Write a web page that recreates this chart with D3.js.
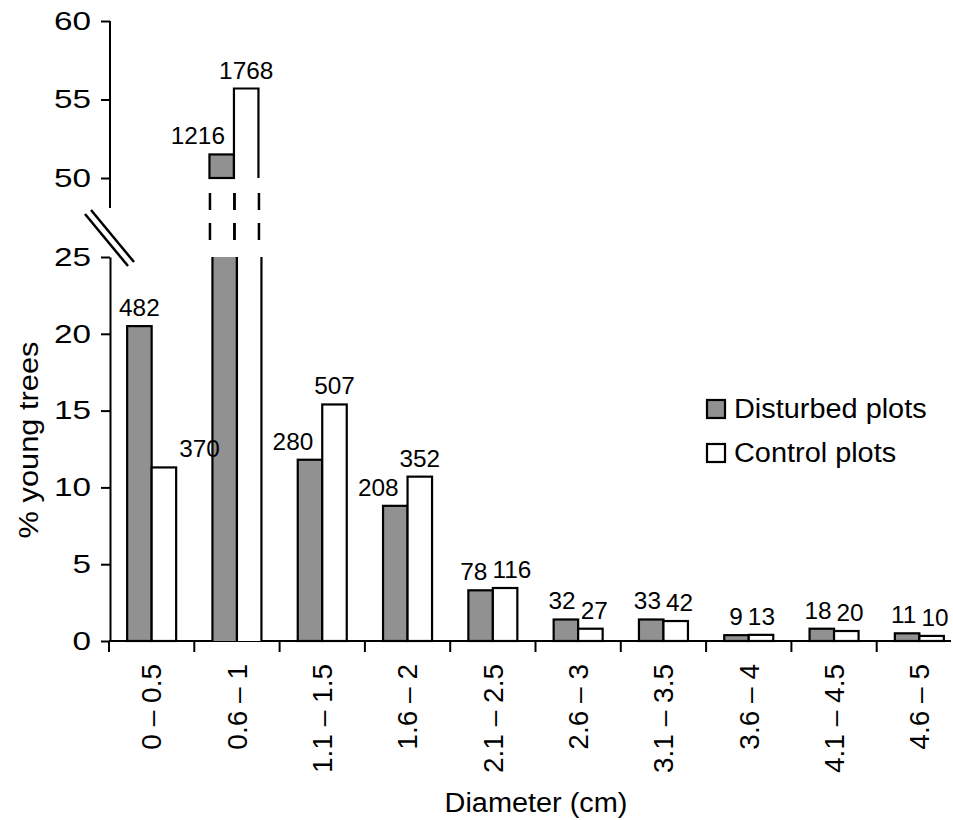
<!DOCTYPE html>
<html lang="en">
<head>
<meta charset="UTF-8">
<title>Young trees by diameter</title>
<script src="https://d3js.org/d3.v7.min.js"></script>
<style>
    body { margin: 0; background: #fff; }
    text { font-family: "Liberation Sans", Arial, sans-serif; fill: #000; }
</style>
</head>
<body>
<script>
    var categories = ["0 – 0.5", "0.6 – 1", "1.1 – 1.5", "1.6 – 2", "2.1 – 2.5",
                      "2.6 – 3", "3.1 – 3.5", "3.6 – 4", "4.1 – 4.5", "4.6 – 5"];
    var series = ["Disturbed plots", "Control plots"];
    var disturbed = [20.5, 51.5, 11.8, 8.8, 3.3, 1.4, 1.4, 0.38, 0.8, 0.5];
    var control = [11.3, 55.7, 15.4, 10.7, 3.45, 0.8, 1.3, 0.4, 0.65, 0.33];
    var disturbedN = [482, 1216, 280, 208, 78, 32, 33, 9, 18, 11];
    var controlN = [370, 1768, 507, 352, 116, 27, 42, 13, 20, 10];
    var lowTicks = [0, 5, 10, 15, 20, 25];
    var highTicks = [50, 55, 60];

    var gray = "#919191";
    var breakAt = 25;

    var svg = d3.select("body").append("svg")
        .attr("width", 953)
        .attr("height", 820);

    var x = d3.scaleBand().domain(categories).range([109, 962]);
    var xs = d3.scaleBand().domain(series).range([0, 49]);
    var yLow = d3.scaleLinear().domain([0, 25]).range([641, 257]);
    var yHigh = d3.scaleLinear().domain([50, 60]).range([178, 21]);

    // horizontal text, stretched sideways like the original figure
    function hText(parent, px, py, str, size, k, anchor) {
        return parent.append("text")
            .attr("transform", "translate(" + px + "," + py + ") scale(" + k + ",1)")
            .attr("text-anchor", anchor || "middle")
            .style("font-size", size + "px")
            .text(str);
    }

    // ---- axes ----
    var axLow = svg.append("g").attr("transform", "translate(110,0)")
        .call(d3.axisLeft(yLow).tickValues(lowTicks).tickSize(9).tickSizeOuter(0));
    var axHigh = svg.append("g").attr("transform", "translate(110,0)")
        .call(d3.axisLeft(yHigh).tickValues(highTicks).tickSize(9).tickSizeOuter(0));
    axHigh.select(".domain").remove();
    axHigh.append("line")
        .attr("y1", yHigh(60)).attr("y2", yHigh(50) + 30)
        .attr("stroke", "#000").attr("stroke-width", 2);

    [axLow, axHigh].forEach(function (ax) {
        ax.attr("font-family", null).attr("font-size", null);
        ax.selectAll("path, line").attr("stroke", "#000").attr("stroke-width", 2);
        ax.selectAll(".tick text")
            .attr("x", null)
            .attr("fill", "#000")
            .attr("transform", "translate(-19,0) scale(1.28,1)")
            .style("font-size", "26px");
    });

    // axis break marks
    var brk = svg.append("g").attr("stroke", "#000").attr("stroke-width", 2.5);
    [0, 6].forEach(function (o) {
        brk.append("line")
            .attr("x1", 85 + o).attr("y1", 214 - 4 * o / 6)
            .attr("x2", 128 + o).attr("y2", 266 - 4 * o / 6);
    });

    // x axis
    var xAxis = svg.append("g");
    xAxis.append("line")
        .attr("x1", x.range()[0]).attr("x2", x.range()[1] - 11)
        .attr("y1", yLow(0)).attr("y2", yLow(0))
        .attr("stroke", "#000").attr("stroke-width", 2);
    xAxis.selectAll(".xt").data(categories).join("line")
        .attr("class", "xt")
        .attr("x1", function (d) { return x(d); })
        .attr("x2", function (d) { return x(d); })
        .attr("y1", yLow(0)).attr("y2", yLow(0) + 11)
        .attr("stroke", "#000").attr("stroke-width", 2);
    xAxis.selectAll(".xl").data(categories).join("text")
        .attr("class", "xl")
        .attr("transform", function (d) {
            return "translate(" + (x(d) + x.bandwidth() / 2) + "," + (yLow(0) + 23) + ") rotate(-90)";
        })
        .attr("text-anchor", "end")
        .attr("dy", "0.35em")
        .style("font-size", "28px")
        .text(function (d) { return d; });

    // axis titles
    hText(svg, 536, 812, "Diameter (cm)", 27, 1.07);
    svg.append("text")
        .attr("transform", "translate(28,440) rotate(-90) scale(1.1,1)")
        .attr("text-anchor", "middle")
        .attr("dy", "0.35em")
        .style("font-size", "28px")
        .text("% young trees");

    // ---- bars ----
    var groups = categories.map(function (c, i) {
        return { cat: c, bars: [
            { s: series[0], v: disturbed[i], n: disturbedN[i] },
            { s: series[1], v: control[i], n: controlN[i] }
        ] };
    });

    var w = xs.bandwidth();
    var barsG = svg.append("g").attr("stroke", "#000").attr("stroke-width", 2.2);

    groups.forEach(function (g) {
        var off = x(g.cat) + (x.bandwidth() - 2 * w) / 2;
        g.bars.forEach(function (b, j) {
            var bx = off + xs(b.s);
            var fill = j === 0 ? gray : "#fff";
            b.left = bx; b.right = bx + w;
            if (b.v <= breakAt) {
                barsG.append("rect")
                    .attr("x", bx).attr("y", yLow(b.v))
                    .attr("width", w).attr("height", yLow(0) - yLow(b.v))
                    .attr("fill", fill);
                b.top = yLow(b.v);
                return;
            }
            // broken bar: lower part up to the break
            barsG.append("rect")
                .attr("x", bx).attr("y", yLow(breakAt))
                .attr("width", w).attr("height", yLow(0) - yLow(breakAt))
                .attr("fill", fill).attr("stroke", "none");
            barsG.append("path")
                .attr("d", "M" + bx + "," + yLow(breakAt) + "V" + yLow(0) +
                           "M" + (bx + w) + "," + yLow(breakAt) + "V" + yLow(0))
                .attr("fill", "none");
            // upper part above the break (slightly offset like the original)
            var ux = bx - 3;
            if (j === 0) {
                barsG.append("rect")
                    .attr("x", ux).attr("y", yHigh(b.v))
                    .attr("width", w).attr("height", yHigh(50) - yHigh(b.v))
                    .attr("fill", fill);
            } else {
                barsG.append("rect")
                    .attr("x", ux).attr("y", yHigh(b.v))
                    .attr("width", w).attr("height", yHigh(50) - yHigh(b.v))
                    .attr("fill", fill).attr("stroke", "none");
                barsG.append("path")
                    .attr("d", "M" + ux + "," + yHigh(50) + "V" + yHigh(b.v) +
                               "H" + (ux + w) + "V" + yHigh(50))
                    .attr("fill", "none");
            }
            // dashed joins
            [bx - 2.5, bx + w - 2.5].forEach(function (dx) {
                barsG.append("line")
                    .attr("x1", dx).attr("x2", dx)
                    .attr("y1", yHigh(50) + 15).attr("y2", yLow(breakAt) - 16)
                    .attr("stroke-width", 2.5)
                    .attr("stroke-dasharray", "17,13");
            });
            b.left = ux; b.right = ux + w;
            b.top = yHigh(b.v);
        });
    });

    // ---- value labels ----
    var labK = 1.06, labSize = 23, capH = 16;
    var labG = svg.append("g");
    groups.forEach(function (g) {
        var L = g.bars.map(function (b) {
            var t = labG.append("text").style("font-size", labSize + "px").text(b.n);
            var lw = t.node().getComputedTextLength() * labK;
            t.remove();
            var cx = (b.left + b.right) / 2;
            return { n: b.n, w: lw, cx: cx, base: b.top - 10 };
        });
        var D = L[0], C = L[1], bd = g.bars[0], bc = g.bars[1];
        if (bc.top < D.base) {
            D.cx = bc.left - 9 - D.w / 2;
        } else if (bd.top < C.base - 4) {
            C.cx = bc.right + 3 + C.w / 2;
        } else if (Math.abs(D.base - C.base) < capH) {
            var ov = (D.cx + D.w / 2) + 5 - (C.cx - C.w / 2);
            if (ov > 0) { D.cx -= ov / 2; C.cx += ov / 2; }
        }
        L.forEach(function (l) {
            hText(labG, l.cx, l.base, l.n, labSize, labK);
        });
    });

    // ---- legend ----
    var leg = svg.append("g");
    series.forEach(function (s, i) {
        var ly = 400 + i * 44;
        leg.append("rect")
            .attr("x", 707).attr("y", ly)
            .attr("width", 18).attr("height", 18)
            .attr("fill", i === 0 ? gray : "#fff")
            .attr("stroke", "#000").attr("stroke-width", 2.2);
        hText(leg, 734, ly + 18, s, 27, 1.07, "start");
    });
</script>
</body>
</html>
